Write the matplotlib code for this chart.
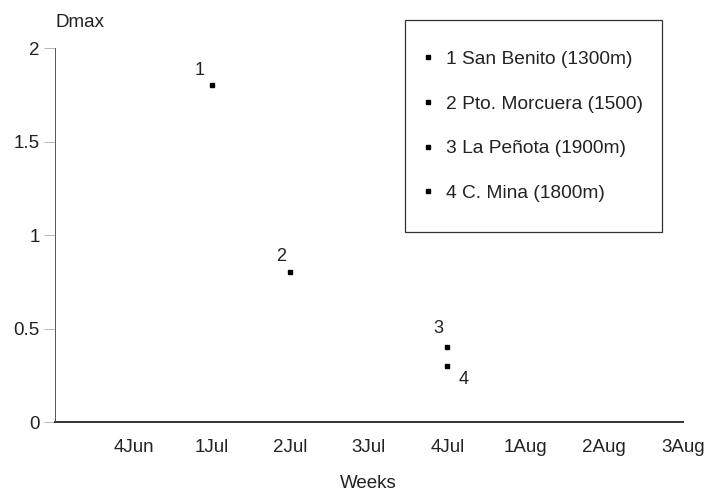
import matplotlib.pyplot as plt
from matplotlib.patches import Rectangle

plt.rcParams['font.family'] = ['Liberation Sans', 'DejaVu Sans']

weeks = ['4Jun', '1Jul', '2Jul', '3Jul', '4Jul', '1Aug', '2Aug', '3Aug']
sites = ['1 San Benito (1300m)', '2 Pto. Morcuera (1500)',
         '3 La Peñota (1900m)', '4 C. Mina (1800m)']
site_num = ['1', '2', '3', '4']
site_week = ['1Jul', '2Jul', '4Jul', '4Jul']
dmax = [1.8, 0.8, 0.4, 0.3]

# position of each week along the axis (axis starts one step before 4Jun)
xpos = {w: i + 1 for i, w in enumerate(weeks)}

W, H = 709, 491
fig = plt.figure(figsize=(W / 100, H / 100), dpi=100)
ax = fig.add_axes([0.0776, 0.1405, 0.8854, 0.7617])

# offsets of the number labels relative to each point (points)
offs = [(-9, 11), (-6.5, 11.5), (-6.5, 13.5), (12, -9.5)]
for i in range(len(sites)):
    x = xpos[site_week[i]]
    ax.plot(x, dmax[i], 's', color='black', markersize=2.8, label=sites[i])
    ax.annotate(site_num[i], (x, dmax[i]), xytext=offs[i], textcoords='offset points',
                ha='center', va='center', fontsize=13, color='#222222')

ax.set_xlim(0, 8)
ax.set_ylim(0, 2)
ax.set_xticks(range(1, 9))
ax.set_xticklabels(weeks)
ax.set_yticks([0, 0.5, 1, 1.5, 2])
ax.set_yticklabels(['0', '0.5', '1', '1.5', '2'])
ax.tick_params(axis='x', length=0, pad=12, labelsize=13.5, colors='#222222')
ax.tick_params(axis='y', length=8, width=0.6, color='#aaaaaa', labelsize=13.5, pad=3,
               colors='#222222')

for s in ['top', 'right']:
    ax.spines[s].set_visible(False)
ax.spines['left'].set_linewidth(0.7)
ax.spines['left'].set_color('#555555')
ax.spines['bottom'].set_linewidth(1.4)
ax.spines['bottom'].set_color('#333333')

fig.text(0.0776, 0.955, 'Dmax', fontsize=13.5, color='#222222', va='center', ha='left')
fig.text(0.52, 0.016, 'Weeks', fontsize=13.5, color='#222222', va='center', ha='center')

# legend entries without frame, box drawn separately
leg = ax.legend(loc='upper left', bbox_to_anchor=(394 / W, 1 - 20 / H),
                bbox_transform=fig.transFigure, frameon=False,
                fontsize=13.8, handlelength=0.3, handletextpad=0.8, labelspacing=1.42,
                borderpad=1.6, borderaxespad=0, markerscale=1.2)
for t in leg.get_texts():
    t.set_color('#222222')
fig.patches.append(Rectangle((405 / W, 1 - 232 / H), 257 / W, 212 / H,
                             transform=fig.transFigure, fill=False,
                             edgecolor='#333333', linewidth=0.9))

plt.savefig('out.png')
